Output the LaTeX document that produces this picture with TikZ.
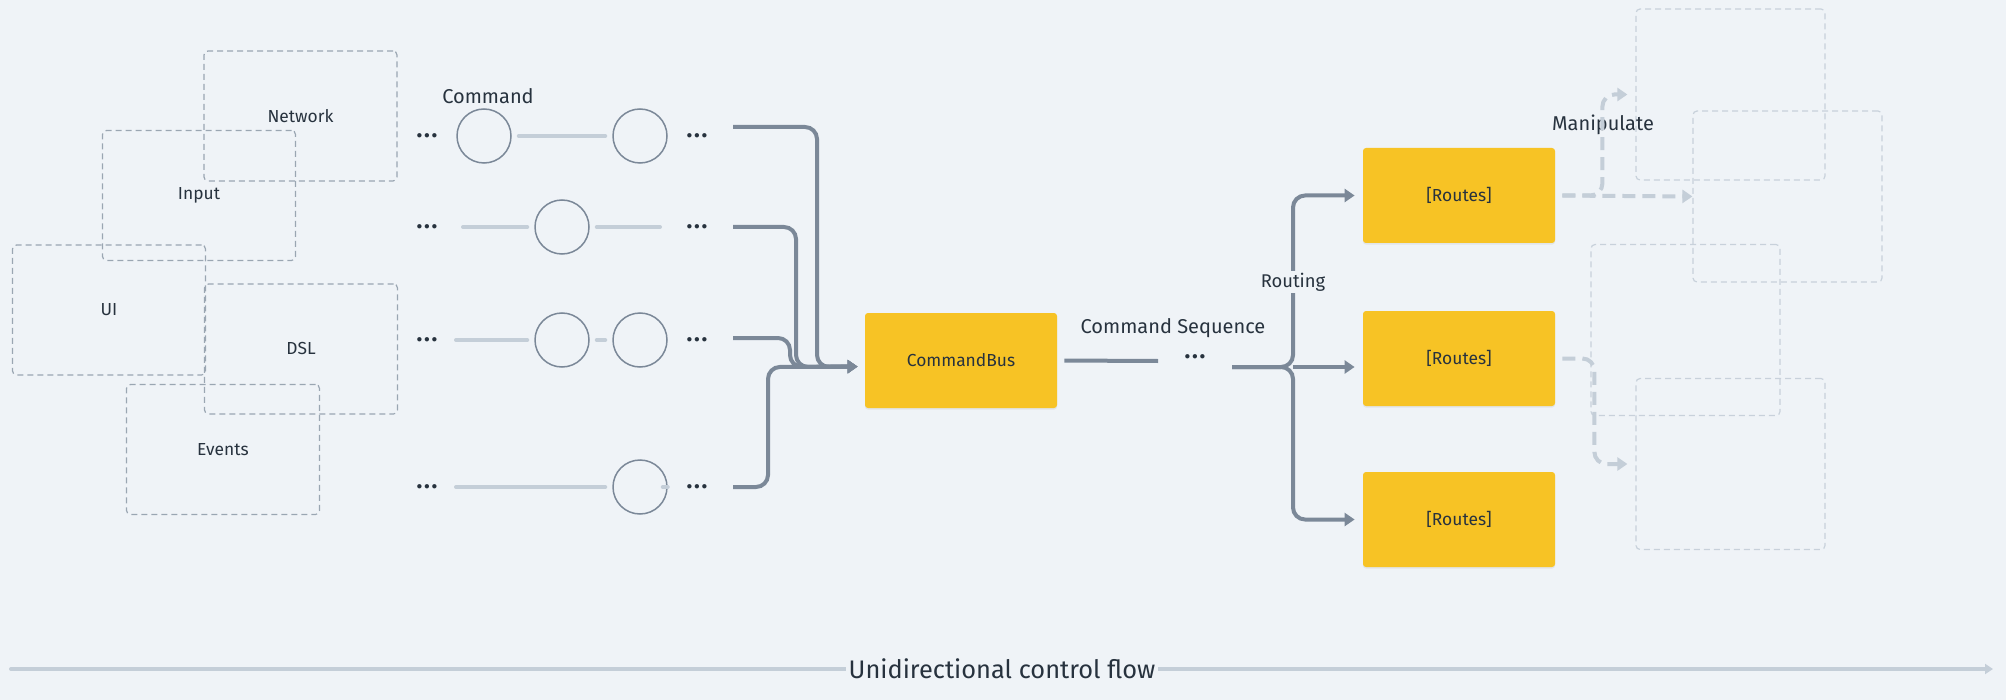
\documentclass[tikz,border=0pt]{standalone}
\usepackage{fontspec}
\setmainfont{Fira Sans}
\usetikzlibrary{arrows.meta, shadows}

\definecolor{canvas}{HTML}{EFF3F7}
\definecolor{ink}{HTML}{27323E}
\definecolor{wire}{HTML}{7B8898}
\definecolor{track}{HTML}{C4CED8}
\definecolor{srcline}{HTML}{9AA6B2}
\definecolor{tgtline}{HTML}{C8D1DB}
\definecolor{busyellow}{HTML}{F7C325}

\newcommand{\moredots}{.\kern0.9pt.\kern0.9pt.}

\begin{document}
\begin{tikzpicture}[
    x=0.5pt, y=-0.5pt,
    font=\fontsize{8.7}{10}\selectfont, text=ink,
    % Styles
    srcbox/.style={
        draw=srcline, dash pattern=on 3pt off 2pt, line width=0.6pt,
        rounded corners=2pt, minimum width=96.5pt, minimum height=65pt,
        inner sep=0pt
    },
    tgtbox/.style={
        draw=tgtline, dash pattern=on 3pt off 2pt, line width=0.6pt,
        rounded corners=2pt, minimum width=94.5pt, minimum height=85.5pt,
        inner sep=0pt
    },
    cmd/.style={circle, draw=wire, line width=0.75pt, minimum size=27pt, inner sep=0pt},
    ybox/.style={
        fill=busyellow, rounded corners=1.5pt, minimum width=96pt,
        minimum height=47.5pt, inner sep=0pt,
        drop shadow={opacity=0.12, shadow xshift=0pt, shadow yshift=-0.8pt}
    },
    lbl/.style={font=\fontsize{10}{12}\selectfont},
    dots/.style={font=\fontsize{12}{14}\selectfont\bfseries, inner sep=1pt},
    trackline/.style={draw=track, line width=2pt, line cap=round},
    gap/.style={shorten <=3.5pt, shorten >=3.5pt},
    wireline/.style={draw=wire, line width=2pt, rounded corners=6pt},
    arrow/.style={wireline, -{Triangle[length=5pt, width=6.5pt]}, shorten >=3.5pt},
    manip/.style={
        draw=track, line width=2pt, dash pattern=on 6.5pt off 3.5pt,
        rounded corners=6pt, -{Triangle[length=5pt, width=6.5pt]}
    }
]

    \fill[canvas] (0,0) rectangle (2006,700);

    % --- Sources ---
    \node[srcbox] (network) at (300.5,116) {Network};
    \node[srcbox] (input) at (199,195.5) {Input};
    \node[srcbox] (ui) at (109,310) {UI};
    \node[srcbox] (dsl) at (301,349) {DSL};
    \node[srcbox] (events) at (223,449.5) {Events};

    % --- Commands ---
    \node[lbl] (cmdlabel) at (488,96) {Command};

    \node[dots] (dl1) at (427,136) {\moredots};
    \node[dots] (dr1) at (697,136) {\moredots};
    \node[dots] (dl2) at (427,227) {\moredots};
    \node[dots] (dr2) at (697,227) {\moredots};
    \node[dots] (dl3) at (427,340) {\moredots};
    \node[dots] (dr3) at (697,340) {\moredots};
    \node[dots] (dl4) at (427,487) {\moredots};
    \node[dots] (dr4) at (697,487) {\moredots};

    \node[cmd] (c11) at (484,136) {};
    \node[cmd] (c12) at (640,136) {};
    \node[cmd] (c21) at (562,227) {};
    \node[cmd] (c31) at (562,340) {};
    \node[cmd] (c32) at (640,340) {};
    \node[cmd] (c41) at (640,487) {};

    \coordinate (t2a) at (463,227);
    \coordinate (t2b) at (660,227);
    \coordinate (t3a) at (456,340);
    \coordinate (t4a) at (456,487);

    \draw[trackline, gap] (c11) -- (c12);
    \draw[trackline, shorten >=3.5pt] (t2a) -- (c21);
    \draw[trackline, shorten <=3.5pt] (c21) -- (t2b);
    \draw[trackline, shorten >=3.5pt] (t3a) -- (c31);
    \draw[trackline, gap] (c31) -- (c32);
    \draw[trackline, shorten >=3.5pt] (t4a) -- (c41);
    \draw[trackline] ([xshift=-2.5pt]c41.east) -- (c41.east);

    % --- Bus ---
    \node[ybox] (cbus) at (961,360.5) {CommandBus};

    \coordinate (in1) at (733,127);
    \coordinate (in2) at (733,227);
    \coordinate (in3) at (733,338);
    \coordinate (in4) at (733,487);
    \coordinate (merge) at ([yshift=-3pt]cbus.west);

    \draw[arrow] (in1) -| (817,367) -- (merge);
    \draw[arrow] (in2) -| (796,367) -- (merge);
    \draw[arrow] (in3) -| (790,367) -- (merge);
    \draw[arrow] (in4) -| (768,367) -- (merge);

    % --- Sequence ---
    \node[lbl] (seqlabel) at (1173,328) {Command Sequence};
    \node[dots] (seqdots) at (1195,357) {\moredots};
    \coordinate (seqa) at (1158,361);
    \coordinate (seqb) at (1232,367);
    \coordinate (branch) at (1293,367);

    \draw[wireline, shorten <=3.5pt] (cbus.east) -- (seqa);

    % --- Routes ---
    \node[ybox] (routes1) at (1459,195.5) {[Routes]};
    \node[ybox] (routes2) at (1459,358.5) {[Routes]};
    \node[ybox] (routes3) at (1459,519.5) {[Routes]};

    \draw[arrow, shorten >=4pt] (seqb) -- (branch) |- (routes1.west);
    \draw[arrow, shorten >=4pt] (branch) -- (routes2.west |- branch);
    \draw[arrow, shorten >=4pt] (seqb) -- (branch) |- (routes3.west);

    \node[lbl, font=\fontsize{9.2}{11}\selectfont, fill=canvas, inner sep=1pt] (routinglabel) at (1293,282) {Routing};

    % --- Targets ---
    \node[tgtbox] (target1) at (1730.5,94.5) {};
    \node[tgtbox] (target2) at (1787.5,196.5) {};
    \node[tgtbox] (target3) at (1685.5,330) {};
    \node[tgtbox] (target4) at (1730.5,464) {};

    \node[lbl] (maniplabel) at (1603,125) {Manipulate};

    \draw[manip, shorten <=3.5pt] (routes1.east) -- (target2.west);
    \draw[manip, shorten <=3.5pt, shorten >=4pt] (routes1.east) -| ([xshift=-16.5pt]target1.west) -- (target1.west);
    \draw[manip, shorten <=3.5pt, shorten >=4pt] (routes2.east) -| ([xshift=-20.5pt]target4.west) -- (target4.west);

    % --- Control flow ---
    \coordinate (flowstart) at (11,669);
    \coordinate (flowend) at (1993,669);
    \draw[trackline, -{Triangle[length=4pt, width=5pt]}] (flowstart) -- (flowend);
    \node[font=\fontsize{12.7}{15}\selectfont, fill=canvas, inner sep=1.5pt] (flowlabel) at (1002,669) {Unidirectional control flow};

\end{tikzpicture}
\end{document}
